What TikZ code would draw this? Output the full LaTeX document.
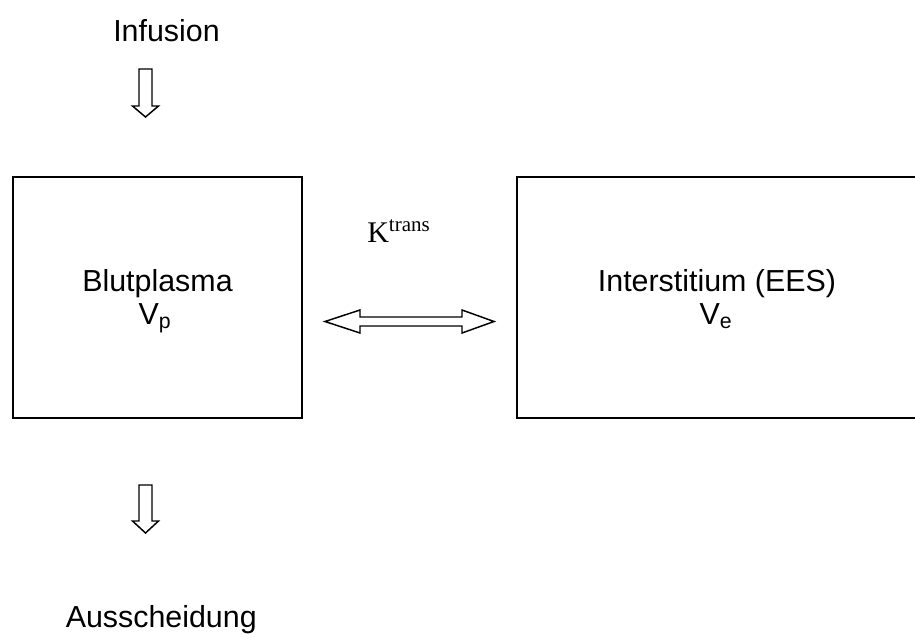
\documentclass[tikz,border=0pt]{standalone}
\usepackage{fontspec}
\setmainfont{Liberation Sans}
\newfontfamily\timesrm{Liberation Serif}
\begin{document}
\begin{tikzpicture}[x=0.75pt,y=-0.75pt,
  compartment/.style={draw, line width=1.1pt, inner sep=0pt},
  label/.style={font=\fontsize{22.8}{27}\selectfont, anchor=base, inner sep=0pt},
  blockarrow/.style={draw, line width=1.1pt, line join=miter, fill=white}]
\useasboundingbox (0,0) rectangle (915,637);

% compartments
\node[compartment, minimum width=216.75pt, minimum height=180.75pt] (plasma) at (157.5,297.5) {};
\node[compartment, minimum width=300.75pt, minimum height=180.75pt] (ees) at (717.5,297.5) {};

% texts
\node[label, anchor=base west] (inf) at (113,41) {Infusion};
\node[label, anchor=base east] (aus) at (257,627) {Ausscheidung};
\node[label] (bp) at (157.5,291) {Blutplasma};
\node[label] (vp) at (155,324) {V\textsubscript{p}};
\node[label] (is) at (717,291) {Interstitium (EES)};
\node[label] (ve) at (716,324) {V\textsubscript{e}};
\node[label, anchor=base west, font=\timesrm\fontsize{22.5}{27}\selectfont] (kt) at (367,242) {K\textsuperscript{trans}};

% infusion arrow
\coordinate (inTop) at (145.5,69);
\draw[blockarrow] (inTop) ++(-6.5,0) -- ++(0,37) -- ++(-6.5,0) -- ++(13,11) -- ++(13,-11) -- ++(-6.5,0) -- ++(0,-37) -- cycle;

% excretion arrow
\coordinate (exTop) at (145.5,485);
\draw[blockarrow] (exTop) ++(-6.5,0) -- ++(0,36) -- ++(-6.5,0) -- ++(13,12) -- ++(13,-12) -- ++(-6.5,0) -- ++(0,-36) -- cycle;

% exchange arrow between the compartments
\coordinate (exL) at (325,321.5);
\coordinate (exR) at (494,321.5);
\draw[blockarrow] (exL) -- ++(35,-11.5) -- ++(0,7) -- ++(102,0) -- ++(0,-7) -- (exR)
  -- ++(-32,11.5) -- ++(0,-7) -- ++(-102,0) -- ++(0,7) -- cycle;
\end{tikzpicture}
\end{document}
